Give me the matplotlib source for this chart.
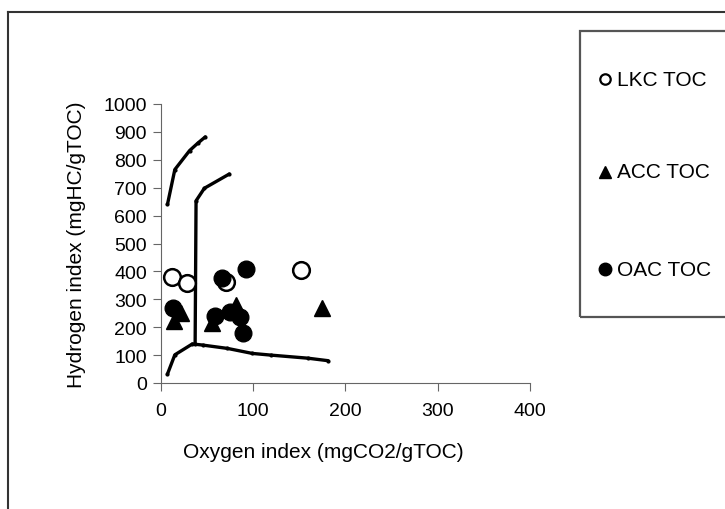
import matplotlib
matplotlib.use("Agg")
import matplotlib.pyplot as plt
from matplotlib.patches import Rectangle
from matplotlib.lines import Line2D

plt.rcParams['font.family'] = ['Liberation Sans', 'DejaVu Sans']

# boundary curves (kerogen types)
type1_x = [7, 15, 31, 40, 48]
type1_y = [640, 765, 833, 860, 882]
type2_x = [37, 38, 47, 74]
type2_y = [140, 653, 698, 749]
type3_x = [7, 15, 34, 45, 72, 99, 119, 159, 181]
type3_y = [32, 101, 140, 136, 124, 106, 100, 89, 80]

# samples
lkc_x = [12, 28, 71, 152]
lkc_y = [379, 360, 361, 405]
acc_x = [14, 22, 55, 81, 175]
acc_y = [222, 250, 215, 280, 268]
oac_x = [13, 58, 66, 92, 75, 86, 89]
oac_y = [270, 240, 375, 410, 255, 235, 178]

W, H = 725, 510
fig = plt.figure(figsize=(W / 100, H / 100), dpi=100)
ax = fig.add_axes([161 / W, 1 - 384 / H, 369 / W, 279 / H])

for xs, ys in [(type1_x, type1_y), (type2_x, type2_y), (type3_x, type3_y)]:
    ax.plot(xs, ys, color='black', lw=2.4, marker='.', ms=4, solid_capstyle='round')

ax.plot(lkc_x, lkc_y, 'o', ls='none', ms=12, mfc='white', mec='black', mew=1.8)
ax.plot(acc_x, acc_y, '^', ls='none', ms=12, color='black')
ax.plot(oac_x, oac_y, 'o', ls='none', ms=12, color='black')

ax.set_xlim(0, 400)
ax.set_ylim(0, 1000)
ax.set_xticks([0, 100, 200, 300, 400])
ax.set_yticks(range(0, 1001, 100))
ax.spines['top'].set_visible(False)
ax.spines['right'].set_visible(False)
ax.spines['left'].set_color('#666666')
ax.spines['bottom'].set_color('#666666')
ax.tick_params(direction='out', length=6, color='#666666', labelsize=14, pad=4)
ax.tick_params(axis='x', pad=8)
ax.set_xlabel('Oxygen index (mgCO2/gTOC)', fontsize=15)
ax.set_ylabel('Hydrogen index (mgHC/gTOC)', fontsize=15)
ax.xaxis.set_label_coords((323 - 161) / 369, (384 - 453) / 279)
ax.xaxis.label.set_va('center')
ax.yaxis.set_label_coords((76 - 161) / 369, 0.5)
ax.yaxis.label.set_va('center')

# legend box, drawn by hand so it can run off the right edge like the original
def px(x, y):
    return x / W, 1 - y / H

x0, y0 = px(580, 318)
x1, y1 = px(740, 32)
fig.add_artist(Rectangle((x0, y0), x1 - x0, y1 - y0, transform=fig.transFigure,
                         fill=False, edgecolor='#555555', lw=1.6))
legend_items = [
    ('LKC TOC', 80, dict(marker='o', ms=7.5, mfc='white', mec='black', mew=1.6)),
    ('ACC TOC', 173, dict(marker='^', ms=9, color='black')),
    ('OAC TOC', 270, dict(marker='o', ms=9, color='black')),
]
for label, ypix, style in legend_items:
    mx, my = px(605, ypix)
    fig.add_artist(Line2D([mx], [my], ls='none', transform=fig.transFigure, **style))
    tx, ty = px(617, ypix)
    fig.text(tx, ty, label, fontsize=15, va='center', ha='left')

# outer frame
fig.add_artist(Line2D([8 / W, 1], [1 - 13 / H, 1 - 13 / H], color='#333333', lw=1.5))
fig.add_artist(Line2D([8 / W, 8 / W], [0, 1 - 13 / H], color='#333333', lw=1.5))

fig.savefig('out.png', dpi=100)
